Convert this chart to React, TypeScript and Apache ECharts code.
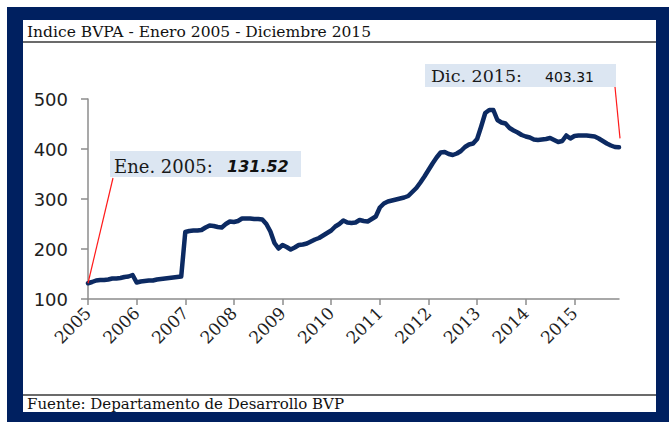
import React, { useEffect, useRef } from "react";
import * as echarts from "echarts";

const years = ["2005", "2006", "2007", "2008", "2009", "2010", "2011", "2012", "2013", "2014", "2015"];
const months = ["Ene", "Feb", "Mar", "Abr", "May", "Jun", "Jul", "Ago", "Sep", "Oct", "Nov", "Dic"];

const v2005 = [131.52, 134, 137, 138, 138, 139, 141, 141, 142, 144, 145, 148];
const v2006 = [133, 135, 136, 137, 137, 139, 140, 141, 142, 143, 144, 145];
const v2007 = [234, 236, 237, 237, 238, 243, 247, 246, 244, 243, 250, 255];
const v2008 = [254, 256, 261, 261, 261, 260, 260, 259, 250, 235, 212, 201];
const v2009 = [208, 204, 199, 203, 208, 209, 211, 215, 219, 222, 227, 232];
const v2010 = [237, 245, 250, 257, 253, 252, 253, 258, 256, 255, 260, 265];
const v2011 = [283, 291, 295, 297, 299, 301, 303, 306, 314, 322, 333, 345];
const v2012 = [358, 371, 383, 393, 394, 390, 388, 391, 396, 404, 409, 411];
const v2013 = [420, 445, 472, 478, 478, 458, 453, 451, 442, 437, 433, 428];
const v2014 = [425, 423, 419, 418, 419, 420, 422, 418, 414, 416, 427, 421];
const v2015 = [426, 427, 427, 427, 426, 425, 421, 416, 411, 407, 404, 403.31];

const yTicks = [100, 200, 300, 400, 500];

const titleText = "Indice BVPA - Enero 2005 - Diciembre 2015";
const sourceText = "Fuente: Departamento de Desarrollo BVP";
const firstLabel = "Ene. 2005:";
const lastLabel = "Dic. 2015:";

const categories = years.flatMap((y) => months.map((m) => `${m} ${y}`));
const values = [
  ...v2005, ...v2006, ...v2007, ...v2008, ...v2009, ...v2010,
  ...v2011, ...v2012, ...v2013, ...v2014, ...v2015,
];

const NAVY = "#002060";
const LINE = "#0c2a62";
const BOX = "#dce6f2";

export default function App() {
  const ref = useRef<HTMLDivElement>(null);

  useEffect(() => {
    if (!ref.current) return;
    const chart = echarts.init(ref.current, null, { renderer: "svg" });
    const option: any = {
      animation: false,
      grid: { left: 88, right: 50, top: 99, bottom: 123 },
      xAxis: {
        type: "category",
        data: categories,
        boundaryGap: false,
        axisLine: { lineStyle: { color: "#8c8c8c", width: 1.5 } },
        axisTick: {
          length: 6,
          interval: (i: number) => i % 12 === 0,
          lineStyle: { color: "#8c8c8c", width: 1.5 },
        },
        axisLabel: {
          interval: (i: number) => i % 12 === 0,
          formatter: (v: string) => v.split(" ")[1],
          rotate: 45,
          margin: 11,
          fontFamily: "DejaVu Serif",
          fontSize: 17,
          color: "#1e1e1e",
        },
        splitLine: { show: false },
      },
      yAxis: {
        type: "value",
        min: yTicks[0],
        max: yTicks[yTicks.length - 1],
        interval: 100,
        axisLine: { show: true, lineStyle: { color: "#8c8c8c", width: 1.5 } },
        axisTick: { show: true, length: 7, lineStyle: { color: "#8c8c8c", width: 1.5 } },
        axisLabel: {
          margin: 20,
          fontFamily: "DejaVu Sans",
          fontSize: 18,
          color: "#1e1e1e",
        },
        splitLine: { show: false },
      },
      series: [
        {
          type: "line",
          data: values,
          symbol: "none",
          lineStyle: { color: LINE, width: 4.5, cap: "round", join: "round" },
          z: 3,
        },
      ],
    };
    chart.setOption(option);

    const p0 = chart.convertToPixel({ xAxisIndex: 0, yAxisIndex: 0 }, [0, values[0]]) as number[];
    const pN = chart.convertToPixel(
      { xAxisIndex: 0, yAxisIndex: 0 },
      [values.length - 1, values[values.length - 1]]
    ) as number[];

    const fmt = (n: number) => n.toFixed(2);

    chart.setOption({
      graphic: [
        {
          type: "text",
          x: 27,
          y: 32,
          style: {
            text: titleText,
            fontFamily: "DejaVu Serif",
            fontSize: 15.5,
            fill: "#111",
            verticalAlign: "middle",
          },
        },
        {
          type: "line",
          shape: { x1: 23, y1: 42, x2: 656, y2: 42 },
          style: { stroke: "#3a3a3a", lineWidth: 1.5 },
        },
        {
          type: "line",
          shape: { x1: 23, y1: 395, x2: 656, y2: 395 },
          style: { stroke: "#3a3a3a", lineWidth: 1.5 },
        },
        {
          type: "text",
          x: 27,
          y: 404,
          style: {
            text: sourceText,
            fontFamily: "DejaVu Serif",
            fontSize: 15,
            fill: "#111",
            verticalAlign: "middle",
          },
        },
        // first annotation
        {
          type: "rect",
          shape: { x: 110, y: 151, width: 191, height: 26 },
          style: { fill: BOX },
        },
        {
          type: "text",
          x: 114,
          y: 166,
          style: {
            text: firstLabel,
            fontFamily: "DejaVu Serif",
            fontSize: 18,
            fill: "#1a1a1a",
            verticalAlign: "middle",
          },
        },
        {
          type: "text",
          x: 227,
          y: 166,
          style: {
            text: fmt(values[0]),
            fontFamily: "DejaVu Sans",
            fontSize: 16,
            fontWeight: "bold",
            fontStyle: "italic",
            fill: "#111",
            verticalAlign: "middle",
          },
        },
        {
          type: "line",
          shape: { x1: p0[0], y1: p0[1], x2: 113, y2: 178 },
          style: { stroke: "#ff1a1a", lineWidth: 1.2 },
          z: 5,
        },
        // last annotation
        {
          type: "rect",
          shape: { x: 425, y: 64, width: 191, height: 23 },
          style: { fill: BOX },
        },
        {
          type: "text",
          x: 431,
          y: 76,
          style: {
            text: lastLabel,
            fontFamily: "DejaVu Serif",
            fontSize: 17.5,
            fill: "#1a1a1a",
            verticalAlign: "middle",
          },
        },
        {
          type: "text",
          x: 545,
          y: 77,
          style: {
            text: fmt(values[values.length - 1]),
            fontFamily: "DejaVu Sans",
            fontSize: 14,
            fill: "#111",
            verticalAlign: "middle",
          },
        },
        {
          type: "line",
          shape: { x1: 615, y1: 87, x2: pN[0] + 1, y2: pN[1] - 9 },
          style: { stroke: "#ff1a1a", lineWidth: 1.2 },
          z: 5,
        },
      ],
    });

    return () => chart.dispose();
  }, []);

  return (
    <div
      style={{
        position: "absolute",
        left: 0,
        top: 0,
        width: 669,
        height: 422,
        background: "#ffffff",
      }}
    >
      <div
        style={{
          position: "absolute",
          left: 7,
          top: 7,
          width: 662,
          height: 415,
          background: NAVY,
        }}
      />
      <div
        style={{
          position: "absolute",
          left: 23,
          top: 20,
          width: 633,
          height: 392,
          background: "#ffffff",
        }}
      />
      <div ref={ref} style={{ position: "absolute", left: 0, top: 0, width: 669, height: 422 }} />
    </div>
  );
}
